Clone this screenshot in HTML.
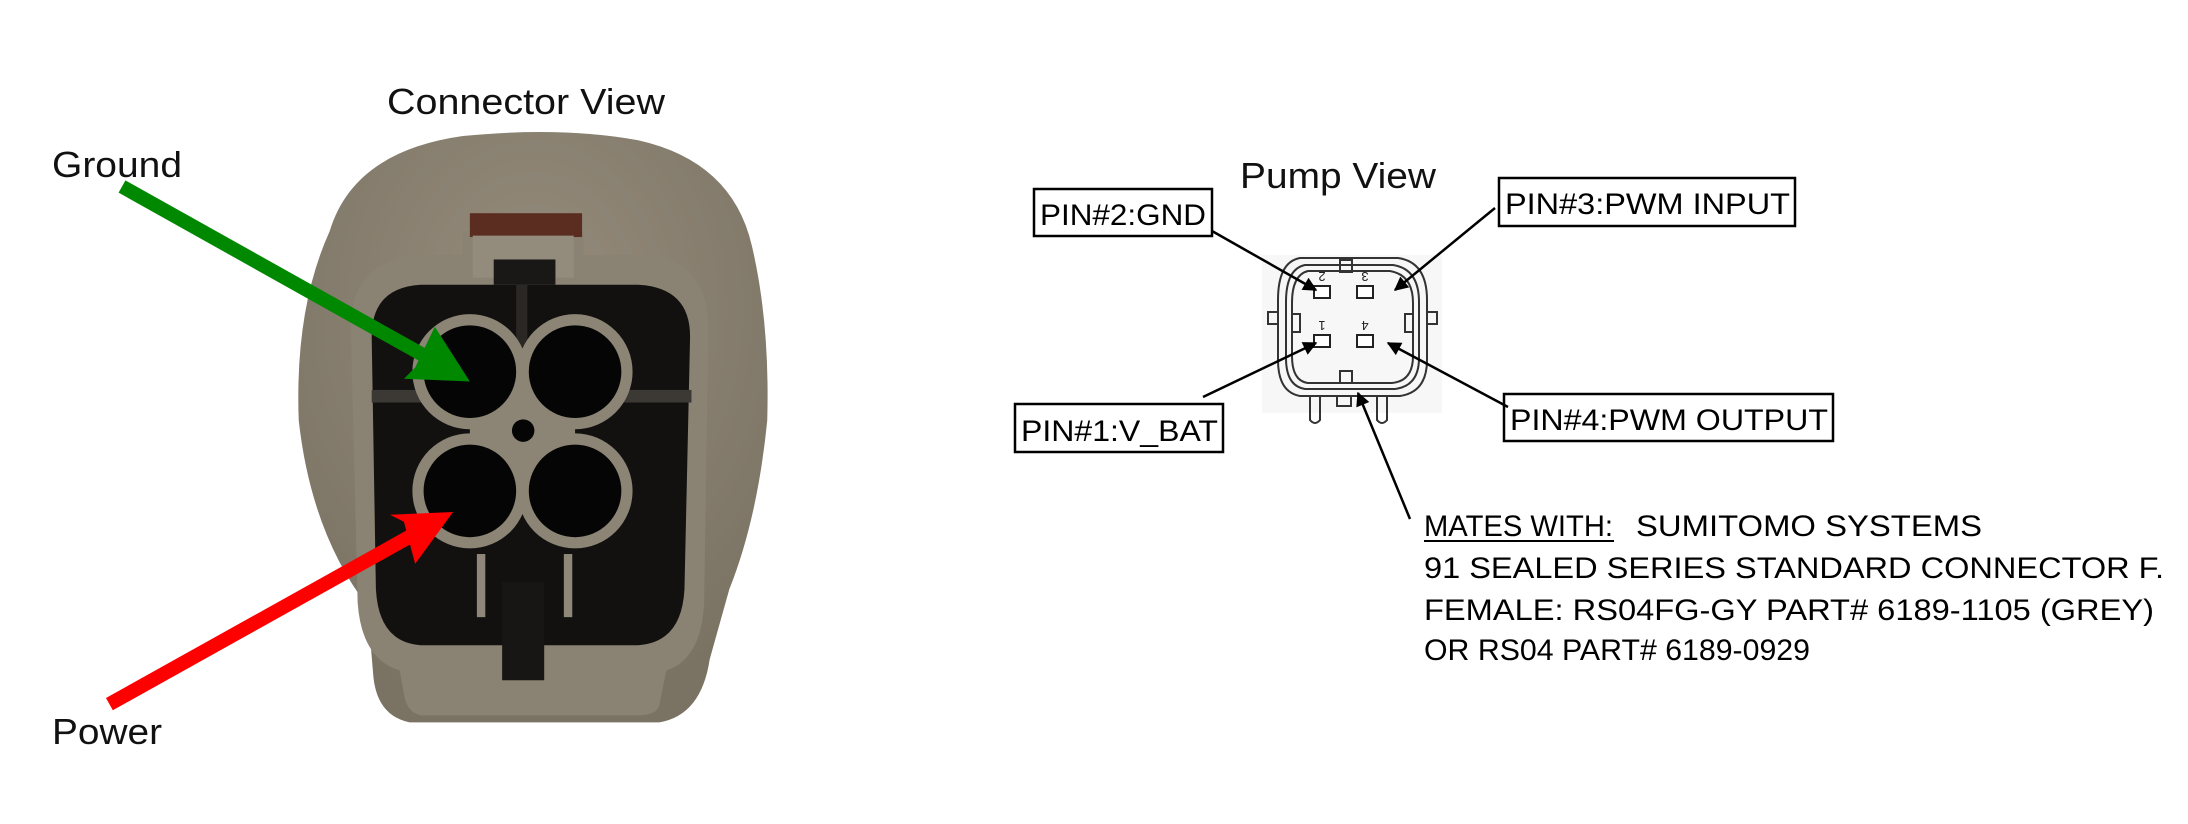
<!DOCTYPE html>
<html><head><meta charset="utf-8"><style>
html,body{margin:0;padding:0;background:#fff;}
svg{display:block;}
text{font-family:"Liberation Sans",Arial,sans-serif;}
</style></head><body>
<svg width="2188" height="824" viewBox="0 0 2188 824" xmlns="http://www.w3.org/2000/svg">
<defs>
<marker id="ah" viewBox="0 0 10 10" refX="9" refY="5" markerWidth="16" markerHeight="14" orient="auto" markerUnits="userSpaceOnUse"><path d="M0,0 L10,5 L0,10 z" fill="#000"/></marker>
<radialGradient id="bg" cx="50%" cy="30%" r="70%"><stop offset="0" stop-color="#958c7c"/><stop offset="1" stop-color="#7a7262"/></radialGradient>
</defs>
<!-- left labels -->
<text x="387" y="114" font-size="36" textLength="278" lengthAdjust="spacingAndGlyphs" fill="#111">Connector View</text>
<text x="52" y="177" font-size="36" textLength="130" lengthAdjust="spacingAndGlyphs" fill="#111">Ground</text>
<text x="52" y="744" font-size="36" textLength="110" lengthAdjust="spacingAndGlyphs" fill="#111">Power</text>
<g transform="scale(1.4026)">
<!-- outer body -->
<path d="M235,165 Q252,108 330,97 Q400,90 455,100 Q522,115 536,175 Q549,230 547,300 Q540,370 520,420 L506,470 Q500,510 470,515 L292,515 Q268,510 266,480 L262,432 Q222,380 213,300 Q210,220 235,165 Z" fill="url(#bg)"/>
<!-- inner raised rim -->
<path d="M250,230 Q252,185 300,182 L330,182 L330,165 L416,165 L416,182 L460,182 Q505,185 505,235 L502,430 Q500,470 475,478 L470,503 Q468,510 455,510 L300,510 Q290,508 288,495 L285,478 Q258,470 255,430 Z" fill="#8a8272"/>
<rect x="335" y="152" width="80" height="17" fill="#5a2d20"/>
<!-- latch -->
<rect x="337" y="168" width="72" height="30" fill="#938b7b"/>
<rect x="352" y="185" width="44" height="18" fill="#1a1816"/>
<!-- black cavity -->
<path d="M265,240 Q265,205 300,203 L455,203 Q492,205 492,240 L488,420 Q486,458 455,460 L300,460 Q270,458 268,420 Z" fill="#121110"/>
<rect x="265" y="278" width="228" height="9" fill="#3c3833"/>
<rect x="368" y="203" width="8" height="60" fill="#2a2724"/>
<!-- bottom -->
<rect x="358" y="415" width="30" height="70" fill="#181614"/>
<rect x="340" y="395" width="6" height="45" fill="#8f8777"/>
<rect x="402" y="395" width="6" height="45" fill="#8f8777"/>
<!-- holes -->
<g fill="#8c8575">
<circle cx="335" cy="265" r="41"/><circle cx="410" cy="265" r="41"/>
<circle cx="335" cy="350" r="41"/><circle cx="410" cy="350" r="41"/>
<rect x="335" y="265" width="75" height="85"/>
</g>
<g fill="#050505">
<circle cx="335" cy="265" r="33"/><circle cx="410" cy="265" r="33"/>
<circle cx="335" cy="350" r="33"/><circle cx="410" cy="350" r="33"/>
<circle cx="373" cy="307" r="8"/>
</g>
<!-- arrows -->
<line x1="87" y1="133" x2="305" y2="255" stroke="#008800" stroke-width="10"/>
<polygon points="335,272 288,270 296,262 310,233" fill="#008800"/>
<line x1="78" y1="502" x2="295" y2="381" stroke="#ff0000" stroke-width="10"/>
<polygon points="323,365 278,367 288,372 296,402" fill="#ff0000"/>
</g>
<!-- pump view -->
<text x="1240" y="188" font-size="36" textLength="196" lengthAdjust="spacingAndGlyphs" fill="#111">Pump View</text>
<g fill="none" stroke="#000" stroke-width="2.5">
<rect x="1034" y="189" width="178" height="47"/>
<rect x="1499" y="178" width="296" height="48"/>
<rect x="1015" y="404" width="208" height="48"/>
<rect x="1504" y="394" width="329" height="47"/>
</g>
<g font-size="30" fill="#000">
<text x="1040" y="225" textLength="166" lengthAdjust="spacingAndGlyphs">PIN#2:GND</text>
<text x="1505" y="214" textLength="285" lengthAdjust="spacingAndGlyphs">PIN#3:PWM INPUT</text>
<text x="1021" y="441" textLength="197" lengthAdjust="spacingAndGlyphs">PIN#1:V_BAT</text>
<text x="1510" y="430" textLength="318" lengthAdjust="spacingAndGlyphs">PIN#4:PWM OUTPUT</text>
</g>
<!-- pump connector drawing -->
<rect x="1262" y="255" width="180" height="158" fill="#f7f7f7"/>
<g fill="none" stroke="#333" stroke-width="2">
<path d="M1300,258 L1398,258 Q1427,262 1427,300 L1427,360 Q1427,392 1400,396 L1300,396 Q1278,392 1278,360 L1278,300 Q1278,262 1300,258 Z"/>
<path d="M1305,265 L1393,265 Q1419,269 1419,302 L1419,358 Q1419,386 1395,389 L1305,389 Q1286,386 1286,358 L1286,302 Q1286,269 1305,265 Z"/>
<path d="M1308,271 L1390,271 Q1413,275 1413,303 L1413,356 Q1413,381 1392,383 L1308,383 Q1292,381 1292,356 L1292,303 Q1292,275 1308,271 Z"/>
<path d="M1278,312 L1268,312 L1268,324 L1278,324"/>
<path d="M1427,312 L1437,312 L1437,324 L1427,324"/>
<path d="M1310,396 L1310,420 Q1315,426 1320,420 L1320,396"/>
<path d="M1377,396 L1377,420 Q1382,426 1387,420 L1387,396"/>
<rect x="1337" y="396" width="14" height="10"/>
<rect x="1340" y="260" width="12" height="12"/>
<rect x="1340" y="371" width="12" height="12"/>
<rect x="1292" y="314" width="8" height="18"/>
<rect x="1405" y="314" width="8" height="18"/>
</g>
<g fill="#fff" stroke="#222" stroke-width="2">
<rect x="1314" y="286" width="16" height="12"/><rect x="1357" y="286" width="16" height="12"/>
<rect x="1314" y="335" width="16" height="12"/><rect x="1357" y="335" width="16" height="12"/>
</g>
<g font-size="13" fill="#222" text-anchor="middle">
<text transform="translate(1322,272) rotate(180)">2</text>
<text transform="translate(1365,272) rotate(180)">3</text>
<text transform="translate(1322,321) rotate(180)">1</text>
<text transform="translate(1365,321) rotate(180)">4</text>
</g>
<!-- leader lines -->
<g stroke="#000" stroke-width="2.5" marker-end="url(#ah)">
<line x1="1212" y1="231" x2="1316" y2="290"/>
<line x1="1495" y1="208" x2="1395" y2="290"/>
<line x1="1203" y1="397" x2="1316" y2="343"/>
<line x1="1508" y1="407" x2="1388" y2="343"/>
<line x1="1410" y1="519" x2="1358" y2="393"/>
</g>
<!-- mates text -->
<g font-size="30" fill="#000">
<text x="1424" y="536" textLength="189" lengthAdjust="spacingAndGlyphs">MATES WITH:</text>
<text x="1636" y="536" textLength="346" lengthAdjust="spacingAndGlyphs">SUMITOMO SYSTEMS</text>
<text x="1424" y="578" textLength="740" lengthAdjust="spacingAndGlyphs">91 SEALED SERIES STANDARD CONNECTOR F.</text>
<text x="1424" y="620" textLength="730" lengthAdjust="spacingAndGlyphs">FEMALE: RS04FG-GY PART# 6189-1105 (GREY)</text>
<text x="1424" y="660" textLength="386" lengthAdjust="spacingAndGlyphs">OR RS04 PART# 6189-0929</text>
</g>
<line x1="1424" y1="541" x2="1614" y2="541" stroke="#000" stroke-width="2"/>
</svg>
</body></html>
